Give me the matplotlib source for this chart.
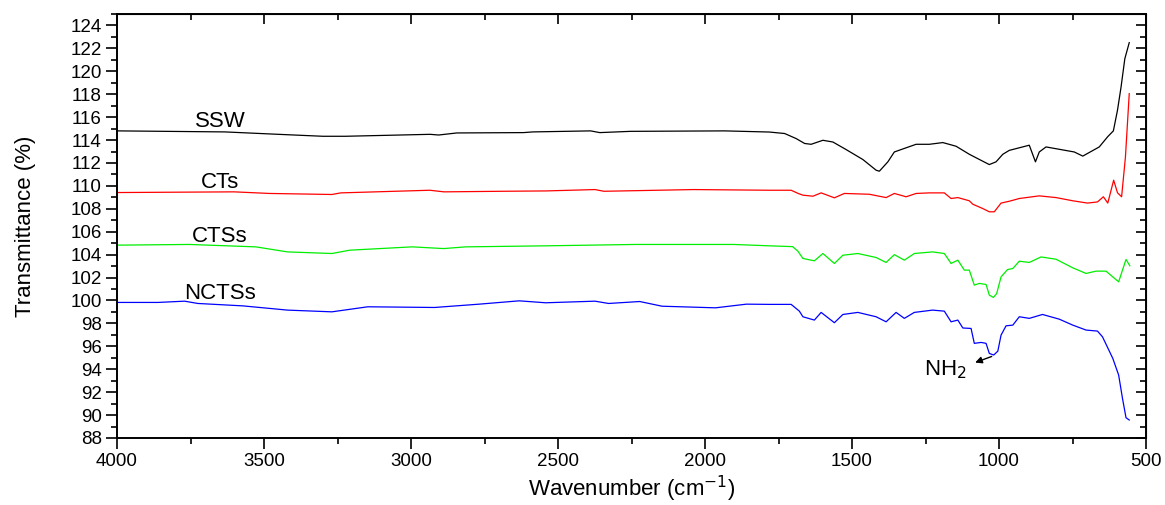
import numpy as np
from matplotlib import pyplot as plt
from matplotlib.ticker import MultipleLocator

plt.rcParams['font.family'] = ['Liberation Sans', 'DejaVu Sans']

# SSW spectrum (wavenumber, transmittance)
ssw_wn = [3997, 3633, 3451, 3300, 3223, 2935, 2906, 2844, 2617, 2586, 2389, 2358, 2253, 1933,
          1781, 1729, 1690, 1661, 1639, 1599, 1565, 1520, 1463, 1418, 1407, 1378, 1356, 1333,
          1282, 1237, 1191, 1146, 1101, 1089, 1033, 1010, 987, 965, 897, 876, 863, 840,
          744, 715, 659, 630, 611, 597, 585, 572, 557]
ssw_t = [114.8, 114.71, 114.5, 114.33, 114.33, 114.5, 114.44, 114.62, 114.65, 114.71, 114.8, 114.65, 114.76, 114.8,
         114.7, 114.57, 114.13, 113.7, 113.63, 113.98, 113.83, 113.17, 112.3, 111.37, 111.28, 112.1, 112.96, 113.17,
         113.63, 113.63, 113.78, 113.46, 112.76, 112.6, 111.86, 112.1, 112.76, 113.1, 113.55, 112.1, 112.96, 113.4,
         112.96, 112.6, 113.4, 114.3, 114.8, 116.6, 118.6, 121.1, 122.5]

# CTs spectrum
cts_wn = [3997, 3602, 3481, 3269, 3239, 2936, 2888, 2691, 2542, 2374, 2344, 2161, 2039, 1781,
          1707, 1683, 1667, 1633, 1605, 1560, 1526, 1441, 1384, 1356, 1316, 1282, 1237, 1186,
          1163, 1140, 1101, 1089, 1055, 1033, 1016, 993, 965, 931, 863, 806, 749, 699,
          665, 645, 630, 610, 597, 583, 570, 557]
cts_t = [109.42, 109.48, 109.34, 109.25, 109.39, 109.62, 109.48, 109.53, 109.56, 109.68, 109.53, 109.62, 109.68, 109.62,
         109.62, 109.34, 109.19, 109.1, 109.39, 108.96, 109.34, 109.27, 108.98, 109.34, 109.05, 109.34, 109.39, 109.39,
         108.9, 108.98, 108.7, 108.4, 108.02, 107.74, 107.74, 108.5, 108.66, 108.9, 109.13, 108.98, 108.7, 108.5,
         108.6, 109.05, 108.5, 110.5, 109.4, 109.05, 112.5, 118.05]

# CTSs spectrum
ctss_wn = [3997, 3755, 3528, 3420, 3269, 3208, 2996, 2889, 2814, 2542, 2236, 1903, 1781, 1702,
           1684, 1667, 1628, 1599, 1560, 1531, 1480, 1418, 1384, 1356, 1322, 1288, 1226, 1186,
           1163, 1140, 1118, 1101, 1084, 1067, 1044, 1033, 1019, 1008, 993, 971, 953, 931,
           897, 857, 806, 749, 704, 670, 636, 613, 593, 580, 568, 555]
ctss_t = [104.83, 104.89, 104.68, 104.24, 104.1, 104.39, 104.68, 104.53, 104.68, 104.77, 104.89, 104.89, 104.77, 104.7,
          104.3, 103.67, 103.46, 104.1, 103.23, 103.95, 104.1, 103.75, 103.32, 104.0, 103.52, 104.1, 104.24, 104.1,
          103.23, 103.52, 102.65, 102.65, 101.34, 101.49, 101.4, 100.47, 100.27, 100.6, 102.06, 102.7, 102.79, 103.43,
          103.32, 103.8, 103.6, 102.85, 102.36, 102.56, 102.56, 102.06, 101.63, 102.65, 103.58, 103.03]

# NCTSs spectrum
ncts_wn = [3997, 3861, 3770, 3725, 3572, 3420, 3269, 3147, 2920, 2768, 2632, 2542, 2374, 2328,
           2222, 2146, 1964, 1859, 1781, 1707, 1679, 1667, 1628, 1605, 1560, 1531, 1480, 1418,
           1384, 1350, 1322, 1288, 1226, 1186, 1163, 1140, 1123, 1095, 1084, 1061, 1044, 1033,
           1018, 1004, 993, 976, 953, 931, 897, 852, 795, 749, 704, 665, 648, 613,
           593, 580, 568, 557]
ncts_t = [99.83, 99.83, 99.94, 99.74, 99.53, 99.16, 99.01, 99.45, 99.39, 99.68, 99.97, 99.8, 99.94, 99.74,
          99.91, 99.5, 99.36, 99.68, 99.66, 99.66, 99.07, 98.58, 98.29, 98.96, 98.06, 98.78, 98.96, 98.58,
          98.14, 98.96, 98.44, 98.96, 99.16, 99.07, 98.14, 98.29, 97.6, 97.56, 96.26, 96.34, 96.26, 95.38,
          95.24, 95.58, 96.98, 97.79, 97.85, 98.58, 98.44, 98.78, 98.37, 97.85, 97.42, 97.33, 96.83, 94.95,
          93.49, 91.46, 89.77, 89.57]

series = [('SSW', ssw_wn, ssw_t, 'black', 115.6),
          ('CTs', cts_wn, cts_t, 'red', 110.3),
          ('CTSs', ctss_wn, ctss_t, '#00ee00', 105.6),
          ('NCTSs', ncts_wn, ncts_t, 'blue', 100.6)]

fig = plt.figure(figsize=(11.65, 5.05), dpi=100)
ax = fig.add_axes([117 / 1165, 1 - 438 / 505, (1146 - 117) / 1165, (438 - 14) / 505])

for name, wn, t, col, ylab in series:
    ax.plot(wn, t, color=col, lw=0.9)
    ax.text(3650, ylab, name, fontsize=16, ha='center', va='center')

ax.annotate('', xy=(1090, 94.5), xytext=(1016, 95.2),
            arrowprops=dict(arrowstyle='-|>', color='black', lw=1, mutation_scale=10))
ax.text(1182, 94.0, 'NH$_2$', fontsize=16, ha='center', va='center')

ax.set_xlim(4000, 500)
ax.set_ylim(88, 125)
ax.xaxis.set_major_locator(MultipleLocator(500))
ax.xaxis.set_minor_locator(MultipleLocator(250))
ax.set_yticks(np.arange(88, 125, 2))
ax.yaxis.set_minor_locator(MultipleLocator(1))
ax.tick_params(which='both', direction='out', top=False, right=False, labelsize=13.5)
ax.tick_params(which='major', length=8, width=1.2, pad=3)
ax.tick_params(which='minor', length=4.5, width=1.2)
for s in ax.spines.values():
    s.set_linewidth(1.4)

# inward ticks on top and right
sec_x = ax.secondary_xaxis('top')
sec_x.xaxis.set_major_locator(MultipleLocator(500))
sec_x.xaxis.set_minor_locator(MultipleLocator(250))
sec_x.tick_params(which='both', direction='in', labeltop=False, width=1.2)
sec_x.tick_params(which='major', length=7)
sec_x.tick_params(which='minor', length=4)
sec_y = ax.secondary_yaxis('right')
sec_y.yaxis.set_major_locator(MultipleLocator(2))
sec_y.yaxis.set_minor_locator(MultipleLocator(1))
sec_y.tick_params(which='both', direction='in', labelright=False, width=1.2)
sec_y.tick_params(which='major', length=7)
sec_y.tick_params(which='minor', length=4)

ax.set_xlabel('Wavenumber (cm$^{-1}$)', fontsize=16)
ax.xaxis.set_label_coords(0.5, -0.085)
ax.set_ylabel('Transmittance (%)', fontsize=16)
ax.yaxis.set_label_coords(-0.079, 0.5)

plt.savefig('out.png', dpi=100)
